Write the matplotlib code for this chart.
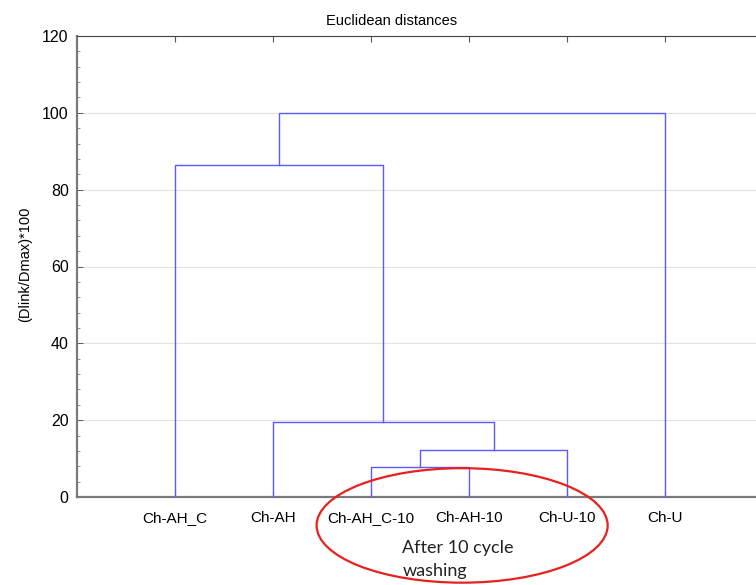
import matplotlib
matplotlib.use('Agg')
import matplotlib.pyplot as plt
from matplotlib.patches import Ellipse

# leaves in plotted order and the merge steps (left node, right node, height)
leaves = ['Ch-AH_C', 'Ch-AH', 'Ch-AH_C-10', 'Ch-AH-10', 'Ch-U-10', 'Ch-U']
merges = [
    ('Ch-AH_C-10', 'Ch-AH-10', 7.8),
    ('m0', 'Ch-U-10', 12.3),
    ('Ch-AH', 'm1', 19.5),
    ('Ch-AH_C', 'm2', 86.5),
    ('m3', 'Ch-U', 100.0),
]
y_ticks = [0, 20, 40, 60, 80, 100, 120]

line_col = '#5a5aff'

plt.rcParams['font.family'] = ['Liberation Sans', 'DejaVu Sans']
fig = plt.figure(figsize=(7.56, 5.85), dpi=100)
ax = fig.add_axes([77 / 756, 1 - 497 / 585, 686 / 756, (497 - 36) / 585])

# node positions: x, height
pos = {name: (i + 1, 0.0) for i, name in enumerate(leaves)}
for k, (a, b, h) in enumerate(merges):
    xa, ha = pos[a]
    xb, hb = pos[b]
    ax.plot([xa, xa, xb, xb], [ha, h, h, hb], color=line_col, lw=1.0, zorder=3)
    pos['m%d' % k] = ((xa + xb) / 2, h)

ax.set_xlim(0, 7)
ax.set_ylim(0, 120)
ax.set_yticks(y_ticks)
ax.set_yticks(range(0, 121, 4), minor=True)
ax.set_xticks(range(1, len(leaves) + 1))
ax.set_xticklabels(leaves, fontsize=11)
ax.tick_params(axis='y', labelsize=11.5, direction='in', length=4, width=0.6,
               color='#444444', pad=6)
ax.tick_params(axis='y', which='minor', direction='in', length=2, width=0.5, color='#666666')
ax.tick_params(axis='x', direction='in', length=4, width=0.8, top=True, pad=10, color='#555555')
ax.grid(axis='y', color='#e2e2e2', lw=0.8, zorder=0)
for s in ['top', 'right']:
    ax.spines[s].set_color('#444444')
    ax.spines[s].set_linewidth(0.8)
for s in ['left', 'bottom']:
    ax.spines[s].set_color('#7a7a7a')
    ax.spines[s].set_linewidth(1.6)

ax.set_title('Euclidean distances', fontsize=10.5, pad=8, x=0.458)
ax.set_ylabel('(Dlink/Dmax)*100', fontsize=10.5)
ax.yaxis.set_label_coords(-0.066, 0.505)

# annotation for washed samples
ell = Ellipse((3.93, -7.4), 2.97, 29.8, fill=False, edgecolor='#e8201e', lw=1.6,
              clip_on=False, zorder=4)
ax.add_patch(ell)
ax.text(3.32, -16.2, 'After 10 cycle\nwashing', fontsize=13, family=['Lato', 'DejaVu Sans'],
        color='#222222', ha='left', va='center', linespacing=1.55, clip_on=False)

fig.savefig('out.png', dpi=100)
